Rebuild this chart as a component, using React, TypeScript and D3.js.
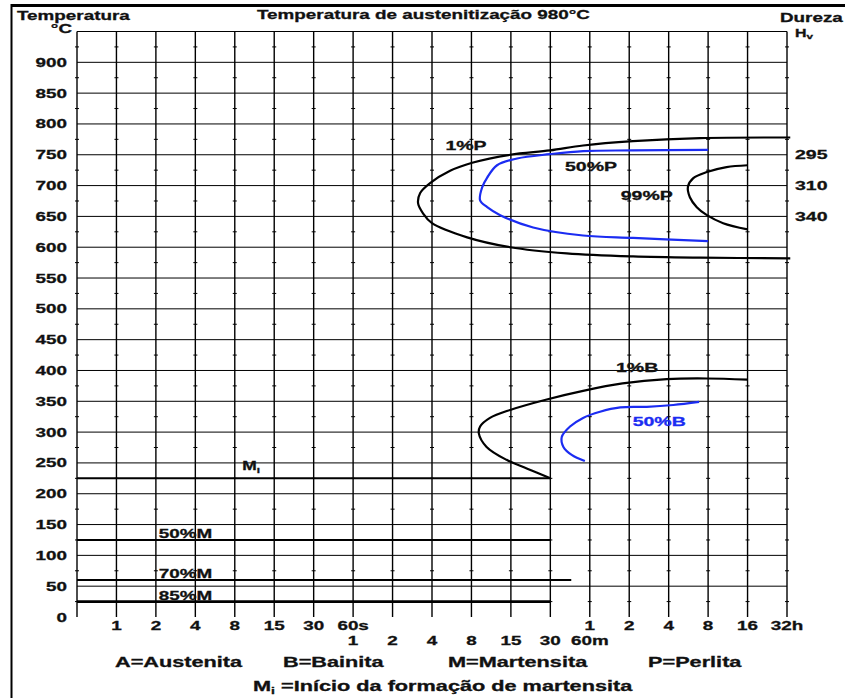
import { useEffect, useRef } from 'react'
import * as d3 from 'd3'

// Time axis: seconds at each evenly spaced grid line (index 0 is the "0" edge)
const TICK_SECONDS = [0, 1, 2, 4, 8, 15, 30, 60, 120, 240, 480, 900, 1800, 3600, 7200, 14400, 28800, 57600, 115200]
const SEC_LABELS = ['1', '2', '4', '8', '15', '30', '60s']   // grid lines 1..7
const MIN_LABELS = ['1', '2', '4', '8', '15', '30', '60m']   // grid lines 7..13
const HOUR_LABELS = ['1', '2', '4', '8', '16', '32h']        // grid lines 13..18

const TEMP_LABELS = [0, 50, 100, 150, 200, 250, 300, 350, 400, 450, 500, 550, 600, 650, 700, 750, 800, 850, 900]
const TEMP_GRID = [50, 100, 150, 200, 250, 300, 350, 400, 450, 500, 550, 600, 650, 700, 750, 800, 850, 900, 950]

// Transformation curves, [seconds, °C]
const PEARLITE_1 = [
  [122000, 778], [25000, 777], [7700, 772], [3200, 765], [1790, 757], [890, 750], [486, 737],
  [330, 724], [232, 704], [195, 688], [188, 671], [205, 655], [240, 639], [445, 616],
  [890, 600], [2400, 590], [7700, 585], [25000, 583], [122000, 582],
]
const PEARLITE_50 = [
  [28800, 758], [7700, 757], [3200, 756], [1790, 751], [1005, 744], [722, 733], [617, 713],
  [569, 697], [551, 676], [617, 665], [759, 652], [1331, 632], [3200, 619], [7700, 615], [28800, 610],
]
const PEARLITE_99 = [
  [57600, 733], [39800, 730], [28200, 722], [22200, 712], [20200, 698], [20900, 681],
  [23600, 665], [28200, 652], [37500, 639], [57600, 629],
]
const BAINITE_1 = [
  [57600, 385], [28200, 387], [13900, 386], [6400, 379], [3200, 367], [1690, 353], [889, 336],
  [645, 323], [551, 309], [540, 298], [611, 276], [840, 255], [1188, 241], [1800, 225],
]
const BAINITE_50 = [
  [24600, 349], [15600, 344], [9800, 341], [6150, 340], [4310, 333], [3200, 323], [2545, 309],
  [2200, 292], [2265, 276], [2620, 263], [3300, 253],
]

// Martensite lines
const MART_LABELS = ['M', '50%M', '70%M', '85%M']
const MART_TEMPS = [225, 125, 60, 25]
const MART_END = [1800, 1800, 2600, 1800]
const MART_LABEL_AT = [9, 2.1, 2.1, 2.1]

// Curve labels
const CURVE_LABELS = ['1%P', '50%P', '99%P', '1%B', '50%B']
const CURVE_LABEL_T = [436, 3675, 9800, 8270, 12200]
const CURVE_LABEL_TEMP = [765, 731, 684, 405, 318]
const CURVE_LABEL_BLUE = [false, false, false, false, true]

// Hardness (HV) at the right
const HV_TEMPS = [750, 700, 650]
const HV_LABELS = ['295', '310', '340']

const LEGEND = ['A=Austenita', 'B=Bainita', 'M=Martensita', 'P=Perlita']

const W = 845
const H = 698
const BLUE = '#1b2cf2'
const INK = '#111'
const FONT = '"Liberation Sans", Arial, sans-serif'

function addText(parent, x, y, str, size = 13, sx = 1.45, anchor = 'start', fill = INK) {
  return parent.append('text')
    .attr('transform', `translate(${x},${y}) scale(${sx},1)`)
    .attr('text-anchor', anchor)
    .attr('font-family', FONT)
    .attr('font-weight', 'bold')
    .attr('font-size', size)
    .attr('fill', fill)
    .attr('stroke', fill)
    .attr('stroke-width', 0.3)
    .text(str)
}

export default function App() {
  const svgRef = useRef(null)

  useEffect(() => {
    const svg = d3.select(svgRef.current)
    svg.selectAll('*').remove()

    const gridX = d3.scaleLinear().domain([0, TICK_SECONDS.length - 1]).range([77, 787])
    const logIdx = d3.scaleLinear()
      .domain(TICK_SECONDS.slice(1).map(Math.log))
      .range(d3.range(1, TICK_SECONDS.length))
    const x = (t) => (t <= 0 ? gridX(0) : gridX(logIdx(Math.log(t))))
    const y = d3.scaleLinear().domain([0, 950]).range([617, 31.5])

    // frame
    svg.append('line').attr('x1', 11).attr('x2', W).attr('y1', 5.5).attr('y2', 5.5)
      .attr('stroke', '#000').attr('stroke-width', 3)
    svg.append('line').attr('x1', 11.5).attr('x2', 11.5).attr('y1', 4).attr('y2', H)
      .attr('stroke', '#000').attr('stroke-width', 2)

    const g = svg.append('g')

    // horizontal grid
    g.selectAll('line.h').data(TEMP_GRID).join('line')
      .attr('x1', x(0)).attr('x2', x(115200))
      .attr('y1', d => y(d)).attr('y2', d => y(d))
      .attr('stroke', '#000').attr('stroke-width', 1)

    // vertical grid
    g.selectAll('line.v').data(TICK_SECONDS).join('line')
      .attr('x1', d => x(d)).attr('x2', d => x(d))
      .attr('y1', y(950)).attr('y2', y(0))
      .attr('stroke', '#000').attr('stroke-width', 1.4)

    // minor ticks at 25 °C steps
    const minor = d3.range(25, 950, 50)
    TICK_SECONDS.forEach(t => {
      g.selectAll(null).data(minor).join('line')
        .attr('x1', x(t) - 2).attr('x2', x(t) + 2)
        .attr('y1', d => y(d)).attr('y2', d => y(d))
        .attr('stroke', '#000').attr('stroke-width', 1)
    })

    // martensite lines
    MART_TEMPS.forEach((temp, i) => {
      g.append('line')
        .attr('x1', x(0)).attr('x2', x(MART_END[i]))
        .attr('y1', y(temp)).attr('y2', y(temp))
        .attr('stroke', '#000').attr('stroke-width', i === 3 ? 2.6 : 2)
      if (i === 0) {
        const t = addText(g, x(MART_LABEL_AT[i]), y(temp) - 8, MART_LABELS[i], 12)
        t.append('tspan').attr('font-size', 8).attr('dy', 3).text('i')
      } else {
        addText(g, x(MART_LABEL_AT[i]), y(temp) - 2, MART_LABELS[i], 13)
      }
    })

    // curves
    const line = d3.line()
      .x(d => x(d[0]))
      .y(d => y(d[1]))
      .curve(d3.curveCatmullRom.alpha(0.5))

    const curves = [
      [PEARLITE_1, '#000'], [PEARLITE_50, BLUE], [PEARLITE_99, '#000'],
      [BAINITE_1, '#000'], [BAINITE_50, BLUE],
    ]
    curves.forEach(([data, color]) => {
      g.append('path')
        .datum(data)
        .attr('fill', 'none')
        .attr('stroke', color)
        .attr('stroke-width', 2.2)
        .attr('d', line)
    })

    CURVE_LABELS.forEach((lbl, i) => {
      addText(g, x(CURVE_LABEL_T[i]), y(CURVE_LABEL_TEMP[i]) + 4.5, lbl, 13, 1.5, 'middle',
        CURVE_LABEL_BLUE[i] ? BLUE : INK)
    })

    // hardness labels
    HV_TEMPS.forEach((temp, i) => {
      addText(g, 795, y(temp) + 4.5, HV_LABELS[i], 13, 1.5)
    })

    // y axis labels
    TEMP_LABELS.forEach(v => addText(g, 67, y(v) + 4.5, String(v), 13, 1.45, 'end'))

    // x axis labels
    SEC_LABELS.forEach((l, i) => addText(g, x(TICK_SECONDS[i + 1]), 630, l, 13, 1.45, 'middle'))
    MIN_LABELS.forEach((l, i) => addText(g, x(TICK_SECONDS[i + 7]), 645, l, 13, 1.45, 'middle'))
    HOUR_LABELS.forEach((l, i) => addText(g, x(TICK_SECONDS[i + 13]), 630, l, 13, 1.45, 'middle'))

    // header texts
    addText(svg, 17, 20, 'Temperatura', 13)
    addText(svg, 72, 33, '°C', 13, 1.45, 'end')
    addText(svg, 257, 19, 'Temperatura de austenitização 980°C', 13)
    addText(svg, 780, 22, 'Dureza', 13)
    const hv = addText(svg, 795, 37, 'H', 11)
    hv.append('tspan').attr('font-size', 8).attr('dy', 2).text('v')

    // legend
    const legendX = [115, 283, 448, 648]
    LEGEND.forEach((l, i) => addText(svg, legendX[i], 667, l, 14, 1.55))
    const mi = addText(svg, 253, 691, 'M', 14, 1.55)
    mi.append('tspan').attr('font-size', 9).attr('dy', 3).text('i')
    mi.append('tspan').attr('dy', -3).text(' =Início da formação de martensita')
  }, [])

  return (
    <svg
      ref={svgRef}
      width={W}
      height={H}
      style={{ position: 'absolute', left: 0, top: 0, background: '#fff', display: 'block' }}
    />
  )
}
